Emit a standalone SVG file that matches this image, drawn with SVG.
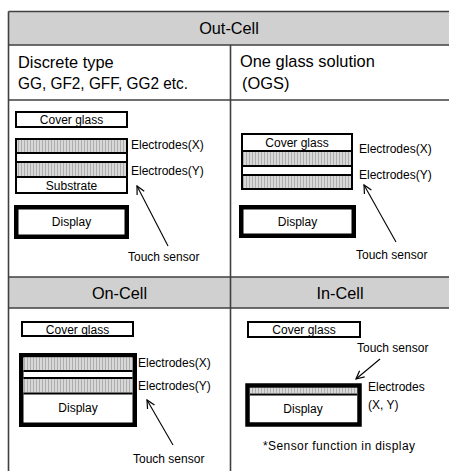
<svg xmlns="http://www.w3.org/2000/svg" width="449" height="471" viewBox="0 0 449 471">
<defs>
<pattern id="elec" width="3" height="3" patternUnits="userSpaceOnUse">
<rect width="3" height="3" fill="#d8d8d8"/>
<rect x="0" y="0" width="1" height="3" fill="#adadad"/>
</pattern>
<marker id="arr" markerWidth="10" markerHeight="10" refX="1" refY="5" orient="auto" markerUnits="userSpaceOnUse">
<path d="M9,1 L1,5 L9,9" fill="none" stroke="#000" stroke-width="1.2"/>
</marker>
</defs>
<style>
text{font-family:"Liberation Sans",Arial,sans-serif;fill:#000}
.hd{font-size:16.3px;text-anchor:middle}
.t1{font-size:16.4px}
.t2{font-size:16.6px}
.sm{font-size:12px}
.c{text-anchor:middle}
.grid{stroke:#404040;stroke-width:1.6;fill:none}
.box{fill:#fff;stroke:#000;stroke-width:2}
.thick{fill:#fff;stroke:#000;stroke-width:4.5}
.el{fill:url(#elec);stroke:#000;stroke-width:2}
.ln{stroke:#000;stroke-width:2}
.conn{stroke:#000;stroke-width:1.1;fill:none;marker-start:url(#arr)}
</style>
<rect width="449" height="471" fill="#fff"/>
<g id="table">
<rect x="8.5" y="11.5" width="441" height="33.5" fill="#d0d0d0"/>
<rect x="8.5" y="277" width="441" height="31" fill="#d0d0d0"/>
<path class="grid" d="M8.5,11.5 H449 M8.5,45 H449 M8.5,100 H449 M8.5,277 H449 M8.5,308 H449 M8.5,11.5 V471 M230.5,45 V471"/>
<text class="hd" x="229" y="34">Out-Cell</text>
<text class="hd" x="119.5" y="299">On-Cell</text>
<text class="hd" x="340" y="299">In-Cell</text>
<text class="t1" x="18" y="68">Discrete type</text>
<text class="t2" x="18" y="88.5" textLength="170" lengthAdjust="spacingAndGlyphs">GG, GF2, GFF, GG2 etc.</text>
<text class="t1" x="240" y="67">One glass solution</text>
<text class="t1" x="242" y="88.5">(OGS)</text>
</g>
<g id="discrete">
<rect class="box" x="16" y="112" width="111" height="15"/>
<text class="sm c" x="71.5" y="124">Cover glass</text>
<rect class="el" x="16" y="139" width="111" height="14"/>
<rect class="box" x="16" y="153" width="111" height="9"/>
<rect class="el" x="16" y="162" width="111" height="15"/>
<rect class="box" x="16" y="177" width="111" height="16"/>
<text class="sm c" x="71.5" y="190">Substrate</text>
<text class="sm" x="131" y="149">Electrodes(X)</text>
<text class="sm" x="131" y="175">Electrodes(Y)</text>
<rect class="thick" x="16.25" y="207.25" width="110.5" height="29.5"/>
<text class="sm c" x="71.5" y="226">Display</text>
<text class="sm" x="128" y="261">Touch sensor</text>
</g>
<g id="ogs">
<rect class="box" x="242" y="134" width="110" height="17"/>
<text class="sm c" x="297" y="147">Cover glass</text>
<rect class="el" x="242" y="151" width="110" height="15"/>
<rect class="box" x="242" y="166" width="110" height="9"/>
<rect class="el" x="242" y="175" width="110" height="14"/>
<text class="sm" x="359" y="153">Electrodes(X)</text>
<text class="sm" x="359" y="179">Electrodes(Y)</text>
<rect class="thick" x="241.25" y="207.25" width="112.5" height="28.5"/>
<text class="sm c" x="297.5" y="226">Display</text>
<text class="sm" x="356" y="259">Touch sensor</text>
</g>
<g id="oncell">
<rect class="box" x="22" y="322" width="111" height="14"/>
<text class="sm c" x="77.5" y="334">Cover glass</text>
<rect class="thick" x="21.25" y="355.25" width="113.5" height="69.5"/>
<rect x="23.5" y="357.5" width="109" height="13" fill="url(#elec)"/>
<line class="ln" x1="23.5" y1="371" x2="132.5" y2="371"/>
<line class="ln" x1="23.5" y1="378" x2="132.5" y2="378"/>
<rect x="23.5" y="379" width="109" height="13.5" fill="url(#elec)"/>
<line class="ln" x1="23.5" y1="393.5" x2="132.5" y2="393.5" stroke-width="2.5"/>
<text class="sm c" x="78" y="412">Display</text>
<text class="sm" x="138" y="367">Electrodes(X)</text>
<text class="sm" x="138" y="390">Electrodes(Y)</text>
<text class="sm" x="133" y="463">Touch sensor</text>
</g>
<g id="incell">
<rect class="box" x="248" y="322" width="112" height="15"/>
<text class="sm c" x="304" y="334">Cover glass</text>
<text class="sm" x="357" y="352">Touch sensor</text>
<rect class="thick" x="247.5" y="385.5" width="112" height="39" stroke-width="5"/>
<rect x="250" y="388" width="107" height="5" fill="url(#elec)"/>
<line class="ln" x1="250" y1="394.5" x2="357" y2="394.5" stroke-width="2.5"/>
<text class="sm c" x="303" y="413">Display</text>
<text class="sm" x="368" y="391">Electrodes</text>
<text class="sm" x="368" y="409">(X, Y)</text>
<text class="sm" x="263" y="450" textLength="152" lengthAdjust="spacing">*Sensor function in display</text>
</g>
<g id="connectors">
<line class="conn" x1="137" y1="186" x2="168" y2="246"/>
<line class="conn" x1="364" y1="185" x2="396" y2="242"/>
<line class="conn" x1="147" y1="400" x2="173" y2="445"/>
<line class="conn" x1="356" y1="379" x2="380" y2="359"/>
</g>
</svg>
